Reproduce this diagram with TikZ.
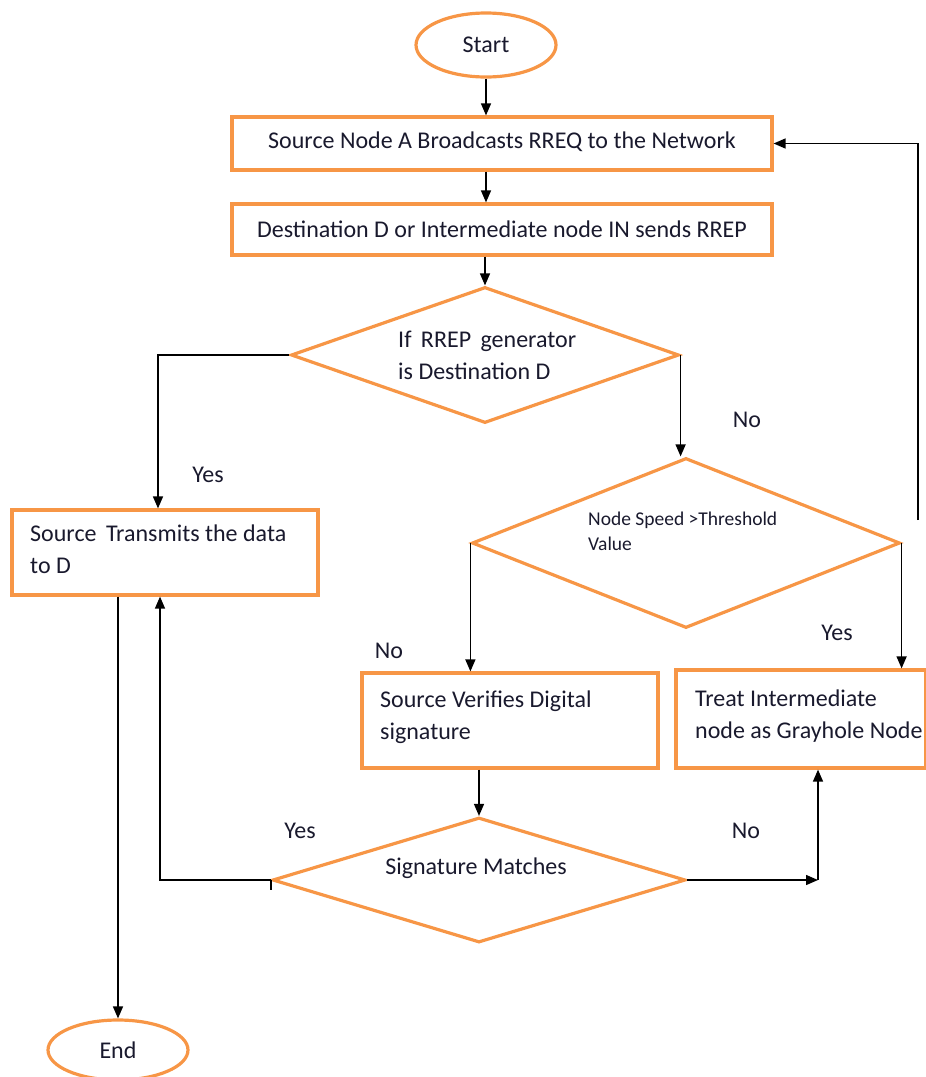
\documentclass[tikz,border=0pt]{standalone}
\usepackage{fontspec}
\setmainfont{Carlito}
\usetikzlibrary{shapes.geometric,arrows.meta,calc}
\definecolor{orng}{RGB}{247,150,70}
\definecolor{txt}{RGB}{25,25,45}
\begin{document}
\begin{tikzpicture}[x=1pt,y=-1pt,
  box/.style={draw=orng,line width=3.2pt,rectangle,inner sep=0pt},
  oval/.style={draw=orng,line width=3.2pt,ellipse,inner sep=0pt,text=txt,font=\fontsize{24}{30}\selectfont},
  dia/.style={draw=orng,line width=3.2pt,diamond,inner sep=0pt},
  lbl/.style={text=txt,font=\fontsize{24}{32}\selectfont,inner sep=0pt},
  small/.style={text=txt,font=\fontsize{19.5}{25}\selectfont,inner sep=0pt,align=left},
  arr/.style={draw=black,line width=1.4pt,-{Triangle[length=12pt,width=10pt]}},
  ln/.style={draw=black,line width=1.4pt}]
\useasboundingbox (0,0) rectangle (926,1077);

% shapes
\node[oval,minimum width=140pt,minimum height=64pt] (start) at (486,45) {Start};
\node[box,minimum width=540pt,minimum height=53pt] (b1) at (502,143.5) {};
\node[lbl] (t1) at (502,142) {Source Node A Broadcasts RREQ to the Network};
\node[box,minimum width=540pt,minimum height=51pt] (b2) at (502,229.5) {};
\node[lbl] (t2) at (502,229) {Destination D or Intermediate node IN sends RREP};
\node[dia,minimum width=388pt,minimum height=136pt] (d1) at (485,355) {};
\node[lbl,align=left,anchor=west] (td1) at (398,355) {If\, RREP\, generator\\is Destination D};
\node[box,minimum width=306pt,minimum height=85pt] (b3) at (165,552.5) {};
\node[lbl,align=left,anchor=north west] (t3) at (30,525) {Source\, Transmits the data\\to D};
\node[dia,minimum width=428pt,minimum height=170pt] (d2) at (686,543) {};
\node[small,anchor=west] (td2) at (588,531) {Node Speed >Threshold\\Value};
\node[box,minimum width=296pt,minimum height=95pt] (b4) at (510,720.5) {};
\node[lbl,align=left,anchor=north west] (t4) at (380,691) {Source Verifies Digital\\signature};
\node[box,minimum width=250pt,minimum height=98pt] (b5) at (801,719) {};
\node[lbl,align=left,anchor=north west] (t5) at (695,690) {Treat Intermediate\\node as Grayhole Node};
\node[dia,minimum width=413pt,minimum height=125pt] (d3) at (479,880) {};
\node[lbl] (td3) at (476,868) {Signature Matches};
\node[oval,minimum width=140pt,minimum height=60pt] (end) at (118,1050) {End};

% labels
\node[lbl] (l1) at (747,420) {No};
\node[lbl] (l2) at (208,475) {Yes};
\node[lbl] (l3) at (389,651) {No};
\node[lbl] (l4) at (837,633) {Yes};
\node[lbl] (l5) at (300,831) {Yes};
\node[lbl] (l6) at (746,831) {No};

% connectors
\draw[arr] (start.south) -- (start.south |- b1.north);
\draw[arr] (b1.south -| start.south) -- (b2.north -| start.south);
\draw[arr] (b2.south -| d1.north) -- (d1.north);
\draw[arr] (d1.west) -| ([xshift=-7pt]b3.north);
\draw[arr] (d1.east) -- (d1.east |- d2.north);
\draw[arr] (d2.west) -- (d2.west |- b4.north);
\draw[arr] (d2.east) -- (d2.east |- b5.north);
\draw[arr] (d3.north |- b4.south) -- (d3.north);
\draw[arr] (d3.west) -| ([xshift=-5pt]b3.south);
\draw[ln] (d3.west) -- ++(0,10);
\coordinate (nc) at (818,880);
\draw[arr] (d3.east) -- (nc);
\draw[arr] (nc) -- (nc |- b5.south);
\draw[arr] ([xshift=-47pt]b3.south) -- (end.north);
\coordinate (fb) at (918,520);
\draw[arr] (fb) |- (b1.east);
\end{tikzpicture}
\end{document}
